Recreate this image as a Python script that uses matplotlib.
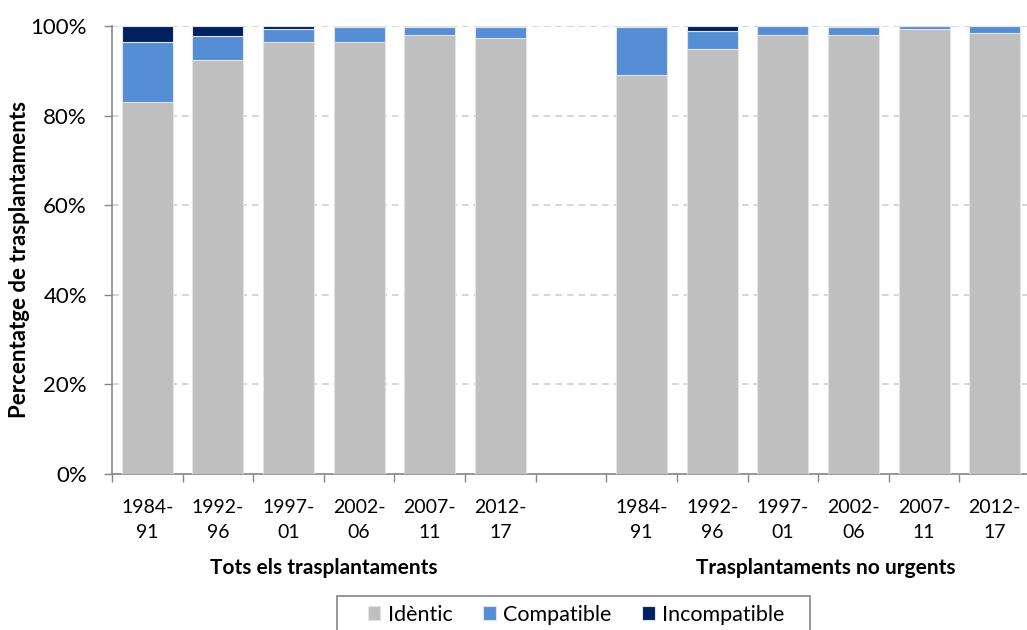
import numpy as np
import matplotlib
matplotlib.use("Agg")
import matplotlib.pyplot as plt
from matplotlib.patches import Rectangle
from matplotlib.transforms import blended_transform_factory

plt.rcParams['font.family'] = ['Lato', 'DejaVu Sans']

# periods and groups
periods = ['1984-\n91', '1992-\n96', '1997-\n01', '2002-\n06', '2007-\n11', '2012-\n17']
groups = ['Tots els trasplantaments', 'Trasplantaments no urgents']

# percentages (group 1 then group 2)
identic_all = [83.0, 92.4, 96.4, 96.4, 98.1, 97.3]
compat_all = [13.5, 5.3, 2.9, 3.4, 1.7, 2.4]
incomp_all = [3.5, 2.3, 0.7, 0.2, 0.2, 0.3]

identic_nu = [89.1, 94.9, 98.1, 98.1, 99.3, 98.5]
compat_nu = [10.7, 4.1, 1.9, 1.6, 0.7, 1.5]
incomp_nu = [0.2, 1.0, 0.0, 0.3, 0.0, 0.0]

c_ident = '#BFBFBF'
c_comp = '#558ED5'
c_incomp = '#002060'
c_axis = '#868686'

fig = plt.figure(figsize=(10.27, 6.3), dpi=100)
ax = fig.add_axes([0.109, 0.2476, 0.894, 0.711])

n = len(periods)
x1 = np.arange(n) + 0.5
x2 = np.arange(n) + n + 1.5
x = np.concatenate([x1, x2])

ident = np.array(identic_all + identic_nu)
comp = np.array(compat_all + compat_nu)
incomp = np.array(incomp_all + incomp_nu)

w = 0.72
ec = '#E3E3E3'
b1 = ax.bar(x, ident, w, color=c_ident, edgecolor=ec, linewidth=0.8, zorder=3)
b2 = ax.bar(x, comp, w, bottom=ident, color=c_comp, edgecolor=ec, linewidth=0.8, zorder=3)
b3 = ax.bar(x, incomp, w, bottom=ident + comp, color=c_incomp, edgecolor=ec, linewidth=0.8, zorder=3)

ax.set_xlim(0, 2 * n + 1)
ax.set_ylim(0, 100)

# y axis
ax.set_yticks(np.arange(0, 101, 20))
ax.set_yticklabels([f'{v}%' for v in range(0, 101, 20)], fontsize=16)
ax.yaxis.grid(True, color='#D0D0D0', linestyle=(0, (4, 3)), linewidth=1.2, zorder=0)

# y label placed by hand (centre at x=20px, y=260px)
fig.text(20 / 1027, 1 - 260 / 630, 'Percentatge de trasplantaments', rotation=90,
         ha='center', va='center', fontsize=16, fontweight='bold')

# x axis: ticks at slot boundaries, labels at slot centres
ax.set_xticks(np.arange(0, 2 * n + 2))
ax.set_xticklabels([])
ax.set_xticks(x, minor=True)
ax.set_xticklabels(periods * 2, minor=True, fontsize=14, linespacing=1.6)
ax.tick_params(axis='x', which='minor', length=0, pad=18)
ax.tick_params(axis='x', which='major', length=6, color=c_axis, width=1)
ax.tick_params(axis='y', length=6, color=c_axis, width=1, pad=12)

for s in ['top', 'right']:
    ax.spines[s].set_visible(False)
for s in ['left', 'bottom']:
    ax.spines[s].set_color(c_axis)
    ax.spines[s].set_linewidth(1.2)

tr = blended_transform_factory(ax.transData, ax.transAxes)
ax.text(n / 2, -0.209, groups[0], transform=tr, ha='center', va='center',
        fontsize=15, fontweight='bold')
ax.text(n + 1 + n / 2 + 0.1, -0.209, groups[1], transform=tr, ha='center', va='center',
        fontsize=15, fontweight='bold')

leg = fig.legend([b1, b2, b3], ['Idèntic', 'Compatible', 'Incompatible'],
                 loc='center', bbox_to_anchor=(0.561, 0.024), ncol=3,
                 fontsize=15.5, frameon=False,
                 handlelength=0.6, handleheight=0.6, handletextpad=0.35,
                 columnspacing=1.4, borderpad=0.2)

# legend box, its lower edge falls outside the picture
fig.patches.append(Rectangle((337 / 1027, -0.05), (810 - 337) / 1027, 0.05 + 34 / 630,
                             transform=fig.transFigure, fill=False,
                             edgecolor=c_axis, linewidth=1.2))

fig.savefig('out.png', dpi=100)
